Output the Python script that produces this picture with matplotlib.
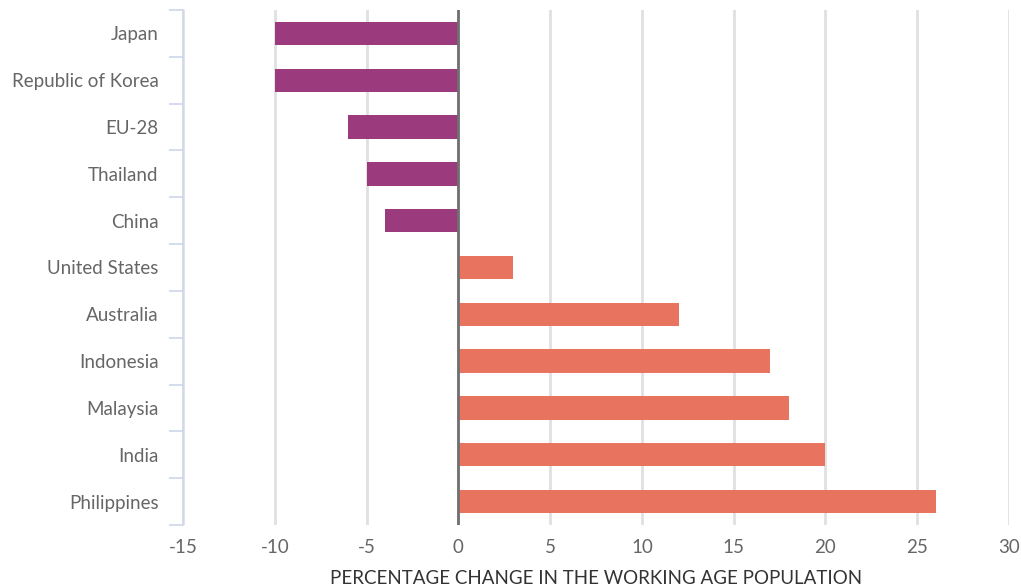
import matplotlib.pyplot as plt
from matplotlib.ticker import MultipleLocator

plt.rcParams['font.family'] = ['Lato', 'DejaVu Sans']
plt.rcParams['axes.unicode_minus'] = False

countries = ["Japan", "Republic of Korea", "EU-28", "Thailand", "China",
             "United States", "Australia", "Indonesia", "Malaysia", "India", "Philippines"]
change = [-10, -10, -6, -5, -4, 3, 12, 17, 18, 20, 26]

neg_color = "#9b3a7c"
pos_color = "#e8745f"
colors = [neg_color if v < 0 else pos_color for v in change]

fig = plt.figure(figsize=(10.21, 5.87), dpi=100)
ax = fig.add_axes([183 / 1021, 62 / 587, 826 / 1021, 515 / 587])

ypos = list(range(len(countries)))
ax.barh(ypos, change, height=0.5, color=colors, zorder=3)

ax.set_xlim(-15, 30)
ax.set_ylim(len(countries) - 0.5, -0.5)
ax.xaxis.set_major_locator(MultipleLocator(5))
ax.grid(axis='x', color='#e0e0e0', linewidth=2, zorder=0)
ax.axvline(0, color='#707070', linewidth=2, zorder=4)

ax.set_yticks(ypos)
ax.set_yticklabels(countries)
ax.set_yticks([i - 0.5 for i in range(len(countries) + 1)], minor=True)
ax.tick_params(axis='y', which='major', length=0, pad=17.5, labelsize=13.5, labelcolor='#666666')
ax.tick_params(axis='y', which='minor', length=10, color='#ccd6eb', width=1.2)
ax.tick_params(axis='x', length=0, pad=10, labelsize=13.5, labelcolor='#666666')

for s in ['top', 'right', 'bottom']:
    ax.spines[s].set_visible(False)
ax.spines['left'].set_color('#ccd6eb')
ax.spines['left'].set_linewidth(1.2)

ax.set_xlabel("PERCENTAGE CHANGE IN THE WORKING AGE POPULATION", fontsize=13.5,
              color='#333333', labelpad=10)

fig.savefig("out.png", dpi=100)
